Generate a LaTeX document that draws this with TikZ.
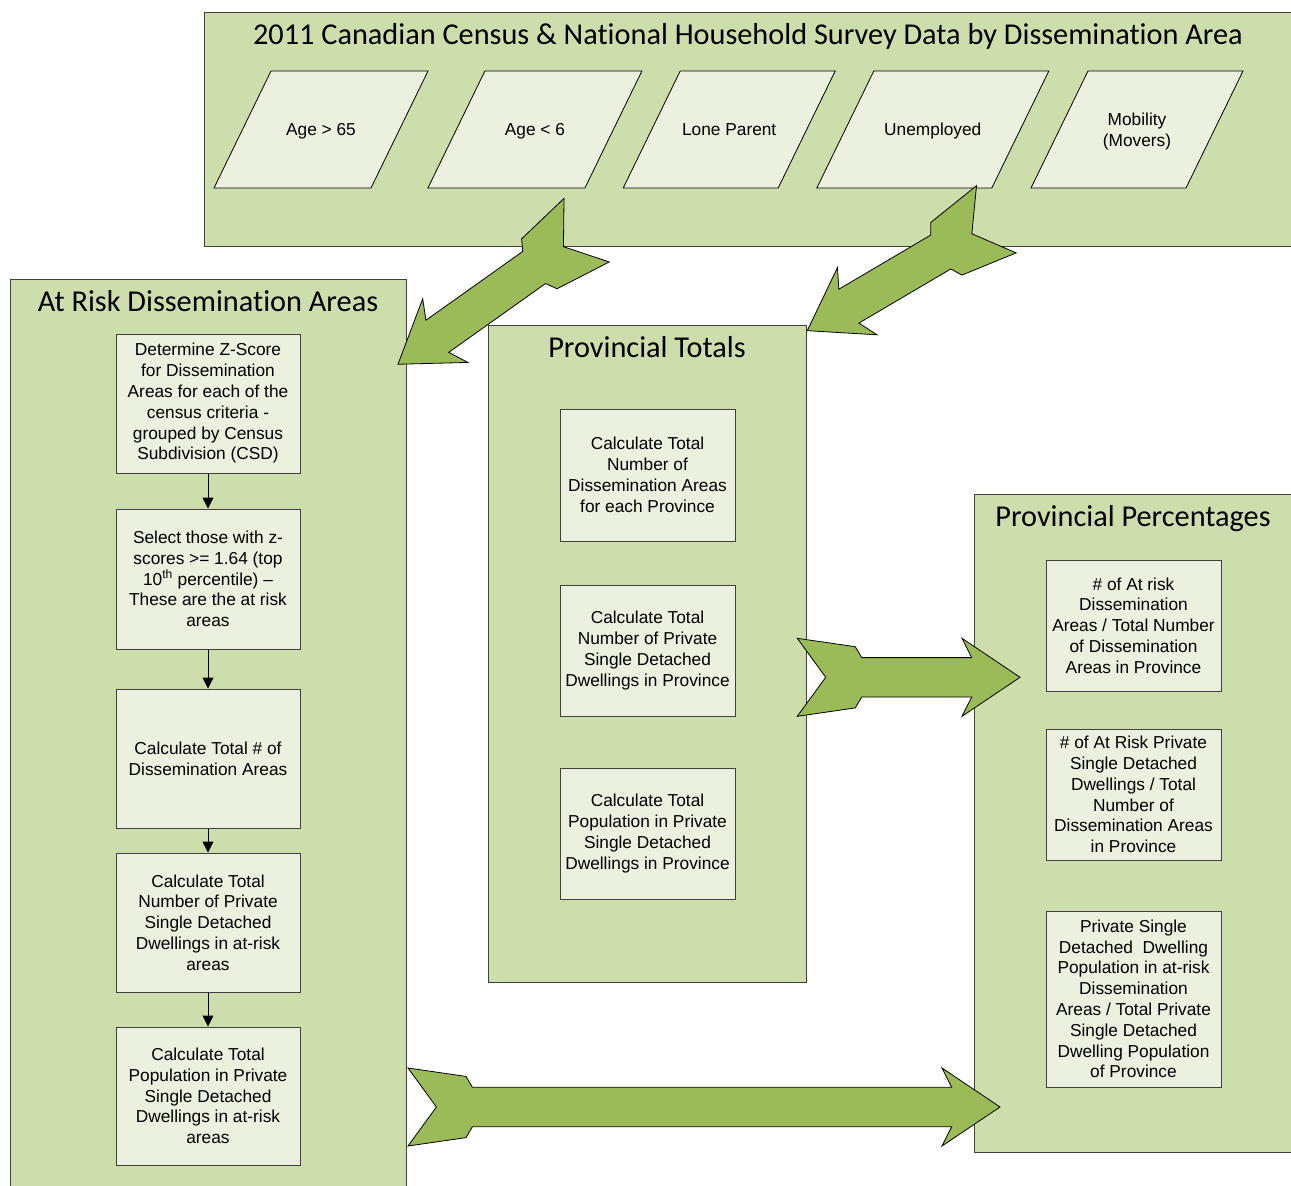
\documentclass[tikz,border=0pt]{standalone}
\usepackage{fontspec}
\setmainfont{Liberation Sans}
\newfontfamily\titlefont[Ligatures=NoCommon]{Carlito}
\usetikzlibrary{arrows.meta}
\definecolor{panelgreen}{RGB}{205,221,172}
\definecolor{boxgreen}{RGB}{235,241,222}
\definecolor{arrowgreen}{RGB}{155,187,89}
\definecolor{edgegray}{RGB}{64,64,64}
\tikzset{
  panel/.style={fill=panelgreen, draw=edgegray, line width=1pt, inner sep=0pt, anchor=north west},
  paneltitle/.style={font=\titlefont\fontsize{30.3}{36}\selectfont, anchor=base, inner sep=0pt},
  stepbox/.style={draw=edgegray, fill=boxgreen, line width=1pt, align=center,
    font=\fontsize{17.3}{20.8}\selectfont, inner sep=0pt, minimum width=184},
  calcbox/.style={stepbox, minimum width=175},
  criterion/.style={draw=black, fill=boxgreen, line width=0.8pt},
  crittext/.style={align=center, font=\fontsize{17.3}{20.8}\selectfont, inner sep=0pt},
  flow/.style={draw=black, line width=1pt, -{Triangle[width=11pt,length=11pt]}},
  bigarrow/.style={fill=arrowgreen, draw=black, line width=0.8pt, line join=miter},
}
% #1 tail coordinate, #2 angle, #3 length
\newcommand\fatarrow[3]{%
  \begin{scope}[shift={(#1)}, rotate=#2]
    \draw[bigarrow] (0,-39) -- (58,-30.6) -- (64.4,-19.7) -- ({#3-48.3},-19.7)
      -- ({#3-58},-39) -- (#3,0) -- ({#3-58},39) -- ({#3-48.3},19.7)
      -- (64.4,19.7) -- (58,30.6) -- (0,39) -- (28.4,0) -- cycle;
  \end{scope}}
% #1 name, #2 centre x, #3 width, #4 text
\newcommand\crit[4]{%
  \draw[criterion] ({#2-(#3+57)/2},188) -- ({#2+(#3-57)/2},188)
    -- ({#2+(#3+57)/2},71) -- ({#2-(#3-57)/2},71) -- cycle;
  \node[crittext] (#1) at (#2,131.5) {#4};}
\begin{document}
\begin{tikzpicture}[x=1pt,y=-1pt]
\clip (0,0) rectangle (1291,1186);
\fill[white] (0,0) rectangle (1291,1186);

% panels
\node[panel, minimum width=1088, minimum height=234] (census) at (204,12) {};
\node[panel, minimum width=396, minimum height=930] (risk) at (10,279) {};
\node[panel, minimum width=318, minimum height=657] (totals) at (488,325) {};
\node[panel, minimum width=318, minimum height=658] (pct) at (974,494) {};

\node[paneltitle] (censustitle) at (748,44.7) {2011 Canadian Census \& National Household Survey Data by Dissemination Area};
\node[paneltitle] (risktitle) at (208,311.7) {At Risk Dissemination Areas};
\node[paneltitle] (totalstitle) at (647,357.7) {Provincial Totals};
\node[paneltitle] (pcttitle) at (1133,526.7) {Provincial Percentages};

% census criteria
\crit{age65}{321}{157}{\strut Age > 65}
\crit{age6}{534.9}{157}{\strut Age < 6}
\crit{lone}{729.2}{155}{\strut Lone Parent}
\crit{unemp}{932.8}{175}{\strut Unemployed}
\crit{mob}{1137}{155}{\strut Mobility\\\strut (Movers)}

% at risk column
\node[stepbox, minimum height=139] (z1) at (208,403.5) {Determine Z-Score\\for Dissemination\\Areas for each of the\\census criteria -\\grouped by Census\\Subdivision (CSD)};
\node[stepbox, minimum height=140] (z2) at (208,579) {Select those with z-\\scores >= 1.64 (top\\10\textsuperscript{th} percentile) –\\These are the at risk\\areas};
\node[stepbox, minimum height=139] (z3) at (208,758.5) {Calculate Total \# of\\Dissemination Areas};
\node[stepbox, minimum height=139] (z4) at (208,922.5) {Calculate Total\\Number of Private\\Single Detached\\Dwellings in at-risk\\areas};
\node[stepbox, minimum height=138] (z5) at (208,1096) {Calculate Total\\Population in Private\\Single Detached\\Dwellings in at-risk\\areas};
\draw[flow] (z1) -- (z2);
\draw[flow] (z2) -- (z3);
\draw[flow] (z3) -- (z4);
\draw[flow] (z4) -- (z5);

% provincial totals
\node[calcbox, minimum height=132] (t1) at (647.5,475) {Calculate Total\\Number of\\Dissemination Areas\\for each Province};
\node[calcbox, minimum height=131] (t2) at (647.5,650.5) {Calculate Total\\Number of Private\\Single Detached\\Dwellings in Province};
\node[calcbox, minimum height=131] (t3) at (647.5,833.5) {Calculate Total\\Population in Private\\Single Detached\\Dwellings in Province};

% provincial percentages
\node[calcbox, minimum height=131] (p1) at (1133.5,625.5) {\# of At risk\\Dissemination\\Areas / Total Number\\of Dissemination\\Areas in Province};
\node[calcbox, minimum height=131] (p2) at (1133.5,794.5) {\# of At Risk Private\\Single Detached\\Dwellings / Total\\Number of\\Dissemination Areas\\in Province};
\node[calcbox, minimum height=176] (p3) at (1133.5,999) {Private Single\\Detached\ \ Dwelling\\Population in at-risk\\Dissemination\\Areas / Total Private\\Single Detached\\Dwelling Population\\of Province};

% big arrows
\coordinate (a1tail) at (586.6,230.2);
\coordinate (a2tail) at (996.3,219.3);
\coordinate (a3tail) at (797.3,677.3);
\coordinate (a4tail) at (408,1107);
\fatarrow{a1tail}{215.4}{231.4}
\fatarrow{a2tail}{210.5}{219.4}
\fatarrow{a3tail}{0}{222.7}
\fatarrow{a4tail}{0}{592}
\end{tikzpicture}
\end{document}
